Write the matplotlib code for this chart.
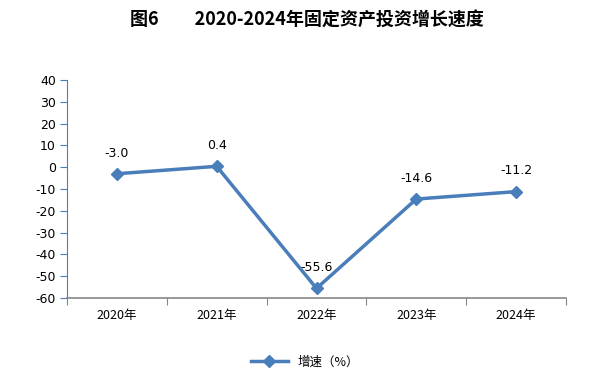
import matplotlib
matplotlib.use("Agg")
import matplotlib.pyplot as plt

plt.rcParams['font.family'] = ['Noto Sans CJK SC', 'DejaVu Sans']

years = ["2020年", "2021年", "2022年", "2023年", "2024年"]
growth = [-3.0, 0.4, -55.6, -14.6, -11.2]
labels = ["-3.0", "0.4", "-55.6", "-14.6", "-11.2"]
yticks = [40, 30, 20, 10, 0, -10, -20, -30, -40, -50, -60]

fig = plt.figure(figsize=(6.13, 3.89), dpi=100)
ax = fig.add_axes([67/613, 1-298/389, (566-67)/613, (298-80)/389])

color = "#4A7EBB"
x = list(range(len(years)))
ax.plot(x, growth, color=color, lw=2.5, marker="D", ms=6, label="增速（%）")
for xi, yi, lb in zip(x, growth, labels):
    ax.text(xi, yi + 6.5, lb, ha="center", va="bottom", fontsize=9, family=['DejaVu Sans'])

ax.set_xlim(-0.5, len(years) - 0.5)
ax.set_ylim(-60, 40)
ax.set_yticks(yticks)
ax.set_yticklabels([str(v) for v in yticks], fontsize=9, family=['DejaVu Sans'])
ax.set_xticks([i - 0.5 for i in range(len(years) + 1)], minor=False)
ax.set_xticklabels([])
ax.set_xticks(x, minor=True)
ax.set_xticklabels(years, minor=True, fontsize=9)
ax.tick_params(axis="x", which="minor", length=0, pad=8)
ax.tick_params(axis="x", which="major", length=5, color="#868686", direction="out")
ax.tick_params(axis="y", length=5, color=color, direction="out", pad=3)

for s in ["top", "right"]:
    ax.spines[s].set_visible(False)
ax.spines["left"].set_color(color)
ax.spines["bottom"].set_color("#868686")
ax.spines["bottom"].set_linewidth(1.2)

fig.text(0.5, 1 - 20/389, "图6　　2020-2024年固定资产投资增长速度", ha="center", va="center",
         fontsize=13, fontweight="bold")

leg = fig.legend(loc="center", bbox_to_anchor=(305/613, 1 - 362/389), frameon=False,
                 fontsize=9, handlelength=3)

fig.savefig("out.png", dpi=100)
